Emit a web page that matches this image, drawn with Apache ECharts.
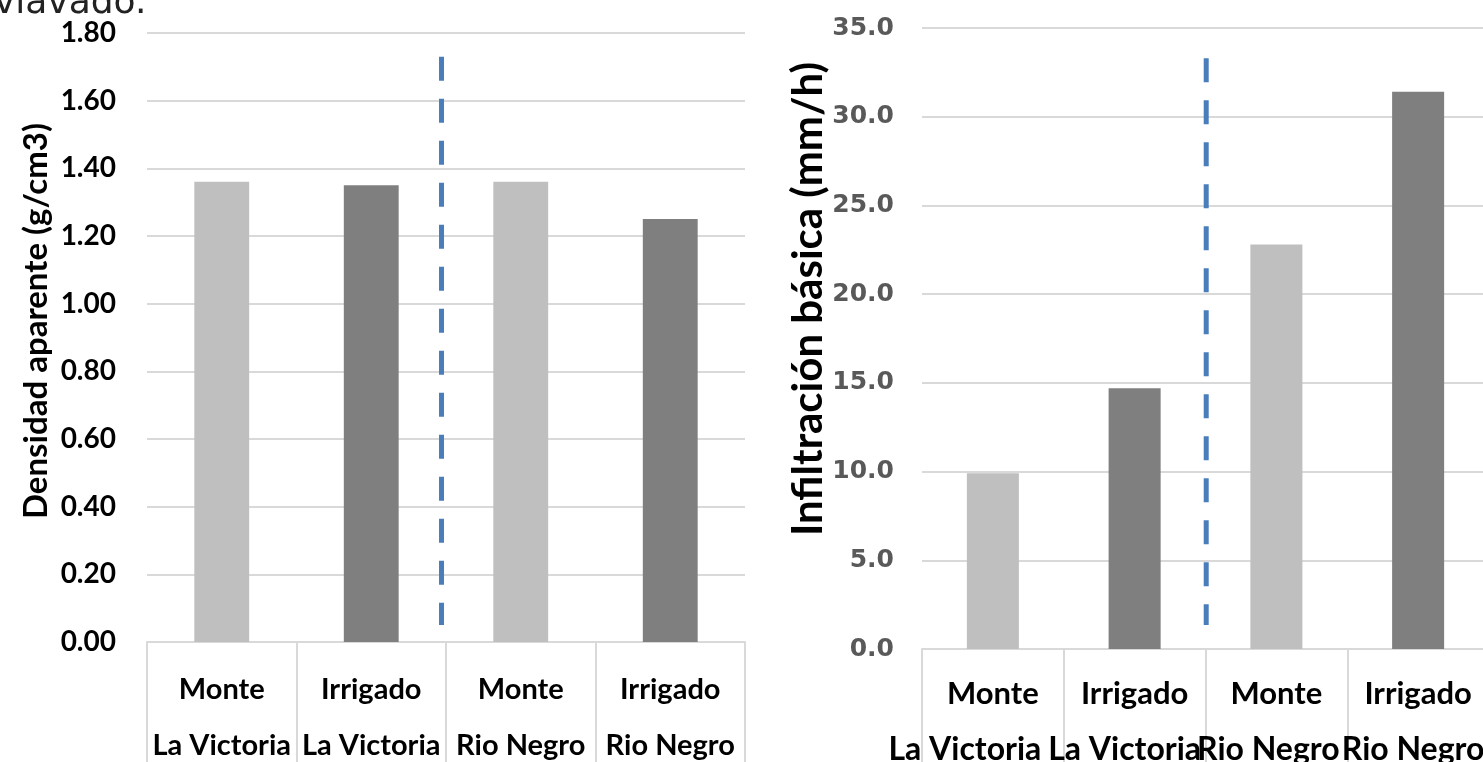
<!DOCTYPE html>
<html>
<head>
<meta charset="utf-8">
<script src="https://cdn.jsdelivr.net/npm/echarts@6/dist/echarts.min.js"></script>
<style>
  html, body { margin: 0; padding: 0; background: #fff; }
  #chart { width: 1483px; height: 762px; }
</style>
</head>
<body>
<div id="chart"></div>
<script>
// Treatments and sites shared by both panels
const treatments = ['Monte', 'Irrigado', 'Monte', 'Irrigado'];
const sites = ['La Victoria', 'La Victoria', 'Rio Negro', 'Rio Negro'];

// Bulk density (g/cm3)
const densidad = [1.36, 1.35, 1.36, 1.25];
// Basic infiltration (mm/h)
const infiltracion = [9.9, 14.7, 22.8, 31.4];

// Axis ranges
const densTicks = { min: 0, max: 1.8, interval: 0.2 };
const infTicks = { min: 0, max: 35, interval: 5 };

const barColors = ['#bfbfbf', '#7f7f7f', '#bfbfbf', '#7f7f7f'];
const categories = treatments.map((t, i) => t + '|' + sites[i]);

const chart = echarts.init(document.getElementById('chart'), null, { renderer: 'canvas' });

// Category axis drawn as a two-row table: treatment on top, site below.
// siteShift nudges each site label to the left (in px).
function catAxis(gridIndex, font, topSize, siteSize, margin, lh, siteShift) {
  const rich = { a: { fontFamily: font, fontWeight: 'bold', fontSize: topSize, color: '#000', lineHeight: lh } };
  siteShift.forEach((s, i) => {
    rich['b' + i] = { fontFamily: font, fontWeight: 'bold', fontSize: siteSize, color: '#000',
                      lineHeight: lh, padding: [0, 2 * s, 0, 0] };
  });
  return {
    type: 'category', gridIndex, data: categories,
    axisLine: { lineStyle: { color: '#d9d9d9', width: 2 } },
    axisTick: { show: true, interval: 0, length: 140, lineStyle: { color: '#d9d9d9', width: 2 } },
    axisLabel: {
      interval: 0, margin,
      formatter: (v, i) => { const p = v.split('|'); return '{a|' + p[0] + '}\n{b' + i + '|' + p[1] + '}'; },
      rich
    }
  };
}

function valAxis(gridIndex, ticks, digits, font, size, color, margin) {
  return {
    type: 'value', gridIndex, min: ticks.min, max: ticks.max, interval: ticks.interval,
    axisLine: { show: false }, axisTick: { show: false },
    splitLine: { lineStyle: { color: '#d9d9d9', width: 2 } },
    axisLabel: {
      margin, formatter: v => v.toFixed(digits),
      fontFamily: font, fontWeight: 'bold', fontSize: size, color
    }
  };
}

function bars(idx, values) {
  return {
    type: 'bar', xAxisIndex: idx, yAxisIndex: idx, barWidth: '36.7%',
    data: values.map((v, i) => ({ value: v, itemStyle: { color: barColors[i] } })),
    silent: true, animation: false
  };
}

chart.setOption({
  animation: false,
  grid: [
    { left: 147, top: 33, width: 598, bottom: 120, outerBoundsMode: 'none' },
    { left: 922, top: 28, width: 567, bottom: 113, outerBoundsMode: 'none' }
  ],
  xAxis: [
    catAxis(0, 'Lato', 29, 29, 20, 56, [0, 0, 0, 0]),
    catAxis(1, 'Lato', 31, 32, 17, 56, [28, 10, 8, 5])
  ],
  yAxis: [
    valAxis(0, densTicks, 2, 'Lato', 28, '#000', 31),
    valAxis(1, infTicks, 1, 'DejaVu Sans', 25, '#595959', 28)
  ],
  series: [bars(0, densidad), bars(1, infiltracion)]
});

// Dashed separators between the two sites, plus axis titles
function sepLine(idx, frac, yTop, yBottom) {
  const c1 = chart.convertToPixel({ xAxisIndex: idx }, categories[1]);
  const c2 = chart.convertToPixel({ xAxisIndex: idx }, categories[2]);
  const x = c1 + (c2 - c1) * frac;
  const y1 = chart.convertToPixel({ yAxisIndex: idx }, yTop);
  const y2 = chart.convertToPixel({ yAxisIndex: idx }, yBottom);
  return {
    type: 'line', shape: { x1: x, y1, x2: x, y2 },
    style: { stroke: '#4a7ebb', lineWidth: 5, lineDash: [24, 18] }, z: 10
  };
}

chart.setOption({
  graphic: [
    sepLine(0, 0.47, 1.73, 0.05),
    sepLine(1, 0.505, 33.3, 1.35),
    {
      type: 'text', x: 36, y: 321, rotation: Math.PI / 2,
      style: { text: 'Densidad aparente (g/cm3)', fontFamily: 'Lato', fontWeight: 'bold', fontSize: 33,
               fill: '#000', align: 'center', verticalAlign: 'middle' }
    },
    {
      type: 'text', x: 808, y: 299, rotation: Math.PI / 2,
      style: { text: 'Infiltración básica (mm/h)', fontFamily: 'Lato', fontWeight: 'bold', fontSize: 42,
               fill: '#000', align: 'center', verticalAlign: 'middle' }
    },
    {
      type: 'text', x: -6, y: 22,
      style: { text: 'vlavado.', fontFamily: 'DejaVu Sans', fontSize: 36, fill: '#222',
               align: 'left', verticalAlign: 'bottom' }
    }
  ]
});
</script>
</body>
</html>
